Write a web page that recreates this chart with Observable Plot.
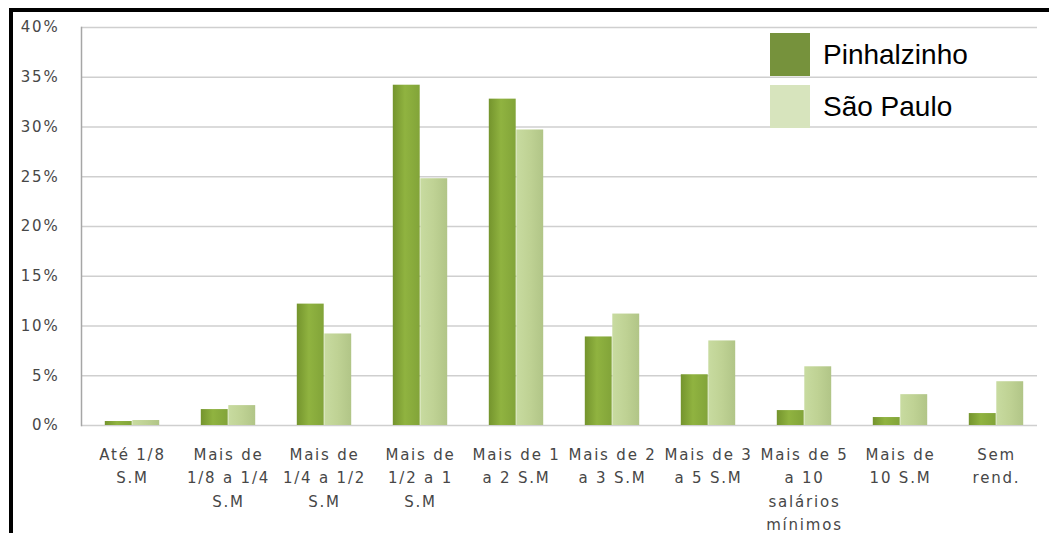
<!DOCTYPE html>
<html>
<head>
<meta charset="utf-8">
<script src="https://cdn.jsdelivr.net/npm/d3@7"></script>
<script src="https://cdn.jsdelivr.net/npm/@observablehq/plot@0.6"></script>
<style>
  html, body { margin: 0; padding: 0; background: #fff; }
  #wrap { position: relative; width: 1049px; height: 533px; overflow: hidden; }
  #border { position: absolute; left: 9px; top: 8px; right: -10px; bottom: -10px;
            border-top: 4px solid #000; border-left: 4px solid #000; pointer-events: none; }
  #chart { position: absolute; left: 0; top: 0; }
  #chart svg text { letter-spacing: 1.8px; }
  .legend { position: absolute; left: 770px; font-family: "Liberation Sans", Arial, sans-serif;
            font-size: 28px; color: #000; }
  .legend .row { position: absolute; left: 0; white-space: nowrap; display: flex; align-items: center; }
  .legend .sw { width: 40px; height: 43px; margin-right: 13px; }
</style>
</head>
<body>
<div id="wrap">
  <div id="chart"></div>
  <div id="border"></div>
  <div class="legend" id="legend"></div>
</div>
<script>
// Income bracket categories (S.M = salário mínimo)
const categories = [
  "Até 1/8 S.M",
  "Mais de 1/8 a 1/4 S.M",
  "Mais de 1/4 a 1/2 S.M",
  "Mais de 1/2 a 1 S.M",
  "Mais de 1 a 2 S.M",
  "Mais de 2 a 3 S.M",
  "Mais de 3 a 5 S.M",
  "Mais de 5 a 10 salários mínimos",
  "Mais de 10 S.M",
  "Sem rend."
];
// Wrapped tick labels, one per category
const tickLabels = [
  "Até 1/8\nS.M",
  "Mais de\n1/8 a 1/4\nS.M",
  "Mais de\n1/4 a 1/2\nS.M",
  "Mais de\n1/2 a 1\nS.M",
  "Mais de 1\na 2 S.M",
  "Mais de 2\na 3 S.M",
  "Mais de 3\na 5 S.M",
  "Mais de 5\na 10\nsalários\nmínimos",
  "Mais de\n10 S.M",
  "Sem\nrend."
];
const seriesNames = ["Pinhalzinho", "São Paulo"];
// Share of households (%) per bracket
const pinhalzinho = [0.4, 1.6, 12.2, 34.2, 32.8, 8.9, 5.1, 1.5, 0.8, 1.2];
const saoPaulo    = [0.5, 2.0, 9.2, 24.8, 29.7, 11.2, 8.5, 5.9, 3.1, 4.4];
const yTicks = [0, 5, 10, 15, 20, 25, 30, 35, 40];

const legendColors = ["#76923c", "#d7e4bd"];

const rowsP = categories.map((c, i) => ({category: c, value: pinhalzinho[i], series: seriesNames[0]}));
const rowsS = categories.map((c, i) => ({category: c, value: saoPaulo[i], series: seriesNames[1]}));
const labelOf = new Map(categories.map((c, i) => [c, tickLabels[i]]));

const width = 1049, height = 533;
const marginLeft = 81, marginRight = 2;
const step = (width - marginLeft - marginRight) / categories.length;
const barW = 27.5;

// Gradient fills giving the bars their shaded look
function gradients() {
  const ns = "http://www.w3.org/2000/svg";
  const defs = document.createElementNS(ns, "defs");
  const stops = {
    gP: [["0%", "#74942d"], ["45%", "#90b340"], ["100%", "#82a439"]],
    gS: [["0%", "#c8dba0"], ["50%", "#bfd294"], ["100%", "#b1c587"]]
  };
  for (const [id, s] of Object.entries(stops)) {
    const g = document.createElementNS(ns, "linearGradient");
    g.setAttribute("id", id);
    g.setAttribute("x1", "0"); g.setAttribute("x2", "1");
    g.setAttribute("y1", "0"); g.setAttribute("y2", "0");
    for (const [o, c] of s) {
      const st = document.createElementNS(ns, "stop");
      st.setAttribute("offset", o);
      st.setAttribute("stop-color", c);
      g.appendChild(st);
    }
    defs.appendChild(g);
  }
  return defs;
}

const plot = Plot.plot({
  width, height,
  marginLeft, marginRight,
  marginTop: 27, marginBottom: 108,
  style: {background: "transparent", fontFamily: "DejaVu Sans, sans-serif", fontSize: "15px", color: "#474747"},
  x: {domain: categories, padding: 0, label: null},
  y: {domain: [0, 40], label: null},
  marks: [
    gradients,
    Plot.ruleY(yTicks, {stroke: "#cfcfcf", strokeWidth: 1.5, insetRight: 10}),
    Plot.frame({anchor: "left", stroke: "#a6a6a6", strokeWidth: 1.5}),
    Plot.barY(rowsP, {x: "category", y: "value", fill: "url(#gP)",
      insetLeft: step / 2 - barW, insetRight: step / 2}),
    Plot.barY(rowsS, {x: "category", y: "value", fill: "url(#gS)",
      insetLeft: step / 2, insetRight: step / 2 - barW}),
    Plot.axisY({ticks: yTicks, tickFormat: d => d + "%", tickSize: 0, tickPadding: 22,
      fill: "#474747"}),
    Plot.axisX({tickFormat: d => labelOf.get(d), tickSize: 0, tickPadding: 18,
      lineHeight: 1.55, fill: "#474747"})
  ]
});
document.getElementById("chart").appendChild(plot);

// Legend
const legend = document.getElementById("legend");
const legendTops = [33, 85];
seriesNames.forEach((name, i) => {
  const row = document.createElement("div");
  row.className = "row";
  row.style.top = legendTops[i] + "px";
  const sw = document.createElement("div");
  sw.className = "sw";
  sw.style.background = legendColors[i];
  const t = document.createElement("span");
  t.textContent = name;
  row.appendChild(sw);
  row.appendChild(t);
  legend.appendChild(row);
});
</script>
</body>
</html>
